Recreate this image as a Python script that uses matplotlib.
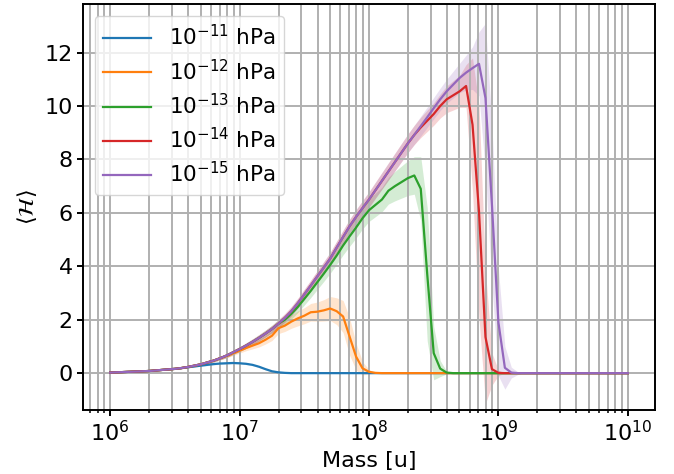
import numpy as np
import matplotlib
matplotlib.use('Agg')
import matplotlib.pyplot as plt

plt.rcParams['font.size'] = 16
#------------------------------------------------------------------------
# mass grid, 1e6 .. 1e10 u, 20 points per decade
mass = np.logspace(6, 10, 81)

labels = [r'$10^{-11}$ hPa', r'$10^{-12}$ hPa', r'$10^{-13}$ hPa',
          r'$10^{-14}$ hPa', r'$10^{-15}$ hPa']
colors = ['#1f77b4', '#ff7f0e', '#2ca02c', '#d62728', '#9467bd']

# mean <H> for every pressure
h11 = [0.02, 0.03, 0.04, 0.05, 0.06, 0.07, 0.08, 0.10, 0.12, 0.14,
       0.16, 0.19, 0.22, 0.25, 0.28, 0.31, 0.34, 0.36, 0.37, 0.38,
       0.37, 0.35, 0.31, 0.24, 0.15, 0.07, 0.03, 0.01, 0, 0,
       0, 0, 0, 0, 0, 0, 0, 0, 0, 0,
       0, 0, 0, 0, 0, 0, 0, 0, 0, 0,
       0, 0, 0, 0, 0, 0, 0, 0, 0, 0,
       0, 0, 0, 0, 0, 0, 0, 0, 0, 0,
       0, 0, 0, 0, 0, 0, 0, 0, 0, 0,
       0]
h12 = [0.02, 0.03, 0.04, 0.05, 0.06, 0.07, 0.08, 0.10, 0.12, 0.14,
       0.16, 0.19, 0.23, 0.28, 0.33, 0.40, 0.47, 0.56, 0.64, 0.74,
       0.84, 0.94, 1.03, 1.12, 1.25, 1.40, 1.68, 1.78, 1.93, 2.05,
       2.15, 2.28, 2.30, 2.35, 2.42, 2.32, 2.12, 1.37, 0.62, 0.18,
       0.05, 0.01, 0, 0, 0, 0, 0, 0, 0, 0,
       0, 0, 0, 0, 0, 0, 0, 0, 0, 0,
       0, 0, 0, 0, 0, 0, 0, 0, 0, 0,
       0, 0, 0, 0, 0, 0, 0, 0, 0, 0,
       0]
h13 = [0.02, 0.03, 0.04, 0.05, 0.06, 0.07, 0.08, 0.10, 0.12, 0.14,
       0.16, 0.19, 0.23, 0.28, 0.33, 0.40, 0.47, 0.56, 0.66, 0.78,
       0.90, 1.03, 1.17, 1.32, 1.48, 1.65, 1.85, 2.00, 2.22, 2.48,
       2.78, 3.08, 3.40, 3.72, 4.05, 4.40, 4.78, 5.12, 5.45, 5.80,
       6.10, 6.30, 6.50, 6.83, 7.00, 7.15, 7.30, 7.40, 6.90, 3.70,
       0.75, 0.17, 0.02, 0, 0, 0, 0, 0, 0, 0,
       0, 0, 0, 0, 0, 0, 0, 0, 0, 0,
       0, 0, 0, 0, 0, 0, 0, 0, 0, 0,
       0]
h14 = [0.02, 0.03, 0.04, 0.05, 0.06, 0.07, 0.08, 0.10, 0.12, 0.14,
       0.16, 0.19, 0.23, 0.28, 0.33, 0.40, 0.47, 0.56, 0.66, 0.78,
       0.90, 1.03, 1.17, 1.32, 1.48, 1.65, 1.85, 2.07, 2.32, 2.62,
       2.95, 3.28, 3.62, 3.95, 4.29, 4.70, 5.10, 5.50, 5.85, 6.18,
       6.50, 6.85, 7.20, 7.55, 7.90, 8.25, 8.60, 8.92, 9.20, 9.45,
       9.70, 10.00, 10.25, 10.40, 10.55, 10.75, 9.30, 6.05, 1.35, 0.15,
       0.01, 0, 0, 0, 0, 0, 0, 0, 0, 0,
       0, 0, 0, 0, 0, 0, 0, 0, 0, 0,
       0]
h15 = [0.02, 0.03, 0.04, 0.05, 0.06, 0.07, 0.08, 0.10, 0.12, 0.14,
       0.16, 0.19, 0.23, 0.28, 0.33, 0.40, 0.47, 0.56, 0.66, 0.78,
       0.90, 1.03, 1.17, 1.32, 1.48, 1.65, 1.85, 2.07, 2.32, 2.62,
       2.95, 3.28, 3.62, 3.95, 4.29, 4.70, 5.10, 5.50, 5.85, 6.18,
       6.50, 6.85, 7.20, 7.55, 7.90, 8.25, 8.60, 8.92, 9.25, 9.58,
       9.92, 10.25, 10.55, 10.80, 11.05, 11.25, 11.42, 11.58, 10.30, 6.30,
       1.90, 0.20, 0.02, 0, 0, 0, 0, 0, 0, 0,
       0, 0, 0, 0, 0, 0, 0, 0, 0, 0,
       0]

# standard deviation bands
s11 = [0.01, 0.01, 0.01, 0.01, 0.01, 0.01, 0.01, 0.01, 0.01, 0.01,
       0.01, 0.02, 0.02, 0.02, 0.02, 0.03, 0.03, 0.03, 0.03, 0.03,
       0.03, 0.03, 0.03, 0.03, 0.03, 0.02, 0.02, 0.01, 0, 0,
       0, 0, 0, 0, 0, 0, 0, 0, 0, 0,
       0, 0, 0, 0, 0, 0, 0, 0, 0, 0,
       0, 0, 0, 0, 0, 0, 0, 0, 0, 0,
       0, 0, 0, 0, 0, 0, 0, 0, 0, 0,
       0, 0, 0, 0, 0, 0, 0, 0, 0, 0,
       0]
s12 = [0.01, 0.01, 0.01, 0.01, 0.01, 0.01, 0.01, 0.01, 0.01, 0.01,
       0.02, 0.02, 0.03, 0.03, 0.04, 0.05, 0.05, 0.06, 0.07, 0.08,
       0.09, 0.10, 0.12, 0.14, 0.16, 0.18, 0.20, 0.22, 0.25, 0.28,
       0.30, 0.33, 0.36, 0.40, 0.45, 0.50, 0.60, 0.70, 0.50, 0.25,
       0.08, 0.02, 0, 0, 0, 0, 0, 0, 0, 0,
       0, 0, 0, 0, 0, 0, 0, 0, 0, 0,
       0, 0, 0, 0, 0, 0, 0, 0, 0, 0,
       0, 0, 0, 0, 0, 0, 0, 0, 0, 0,
       0]
s13 = [0.01, 0.01, 0.01, 0.01, 0.01, 0.01, 0.01, 0.01, 0.01, 0.01,
       0.02, 0.02, 0.03, 0.03, 0.04, 0.05, 0.05, 0.06, 0.07, 0.08,
       0.09, 0.10, 0.11, 0.12, 0.13, 0.14, 0.15, 0.17, 0.19, 0.21,
       0.23, 0.25, 0.27, 0.29, 0.31, 0.33, 0.35, 0.37, 0.39, 0.40,
       0.42, 0.44, 0.46, 0.50, 0.55, 0.60, 0.65, 0.70, 1.20, 2.50,
       1.00, 0.30, 0.05, 0, 0, 0, 0, 0, 0, 0,
       0, 0, 0, 0, 0, 0, 0, 0, 0, 0,
       0, 0, 0, 0, 0, 0, 0, 0, 0, 0,
       0]
s14 = [0.01, 0.01, 0.01, 0.01, 0.01, 0.01, 0.01, 0.02, 0.02, 0.02,
       0.02, 0.03, 0.03, 0.04, 0.04, 0.05, 0.05, 0.06, 0.07, 0.08,
       0.09, 0.10, 0.11, 0.12, 0.13, 0.14, 0.15, 0.16, 0.17, 0.18,
       0.19, 0.20, 0.21, 0.22, 0.23, 0.24, 0.25, 0.26, 0.27, 0.28,
       0.29, 0.30, 0.31, 0.32, 0.33, 0.34, 0.35, 0.36, 0.38, 0.40,
       0.42, 0.45, 0.50, 0.55, 0.60, 0.80, 2.50, 4.00, 2.50, 0.60,
       0.10, 0, 0, 0, 0, 0, 0, 0, 0, 0,
       0, 0, 0, 0, 0, 0, 0, 0, 0, 0,
       0]
s15 = [0.01, 0.01, 0.01, 0.01, 0.01, 0.01, 0.01, 0.02, 0.02, 0.02,
       0.02, 0.03, 0.03, 0.04, 0.04, 0.05, 0.05, 0.06, 0.07, 0.08,
       0.09, 0.10, 0.11, 0.12, 0.13, 0.14, 0.15, 0.16, 0.17, 0.18,
       0.19, 0.20, 0.21, 0.22, 0.23, 0.24, 0.25, 0.26, 0.27, 0.28,
       0.29, 0.30, 0.31, 0.32, 0.33, 0.34, 0.35, 0.36, 0.37, 0.38,
       0.40, 0.42, 0.45, 0.50, 0.55, 0.65, 0.80, 1.20, 2.80, 3.00,
       2.00, 0.80, 0.20, 0.05, 0, 0, 0, 0, 0, 0,
       0, 0, 0, 0, 0, 0, 0, 0, 0, 0,
       0]

means = [h11, h12, h13, h14, h15]
stds = [s11, s12, s13, s14, s15]
for m, s in zip(means, stds):
    assert len(m) == len(mass) and len(s) == len(mass)
#------------------------------------------------------------------------
fig, ax = plt.subplots(figsize=(6.74, 4.74), dpi=100)
fig.subplots_adjust(left=83/674, right=655/674, bottom=1-410/474, top=1-4/474)

for m, s, lab, c in zip(means, stds, labels, colors):
    m = np.array(m)
    s = np.array(s)
    ax.fill_between(mass, m - s, m + s, color=c, alpha=0.2, linewidth=0)
    ax.plot(mass, m, color=c, linewidth=1.6, label=lab)

ax.set_xscale('log')
ax.set_xlim(10**5.79, 10**10.21)
ax.set_ylim(-1.38, 13.82)
ax.set_yticks([0, 2, 4, 6, 8, 10, 12])
ax.grid(which='both', color='#b0b0b0', linewidth=1.4)
for sp in ax.spines.values():
    sp.set_linewidth(1.4)
ax.tick_params(which='major', length=4, width=1.4)
ax.tick_params(which='minor', length=2.2, width=1.1)
ax.set_xlabel('Mass [u]')
ax.set_ylabel(r'$\langle\mathcal{H}\rangle$')
ax.legend(loc='upper left', fontsize=15.5, labelspacing=0.42,
          handlelength=2.2, handletextpad=0.85, borderaxespad=0.55)

plt.savefig('out.png', dpi=100)
